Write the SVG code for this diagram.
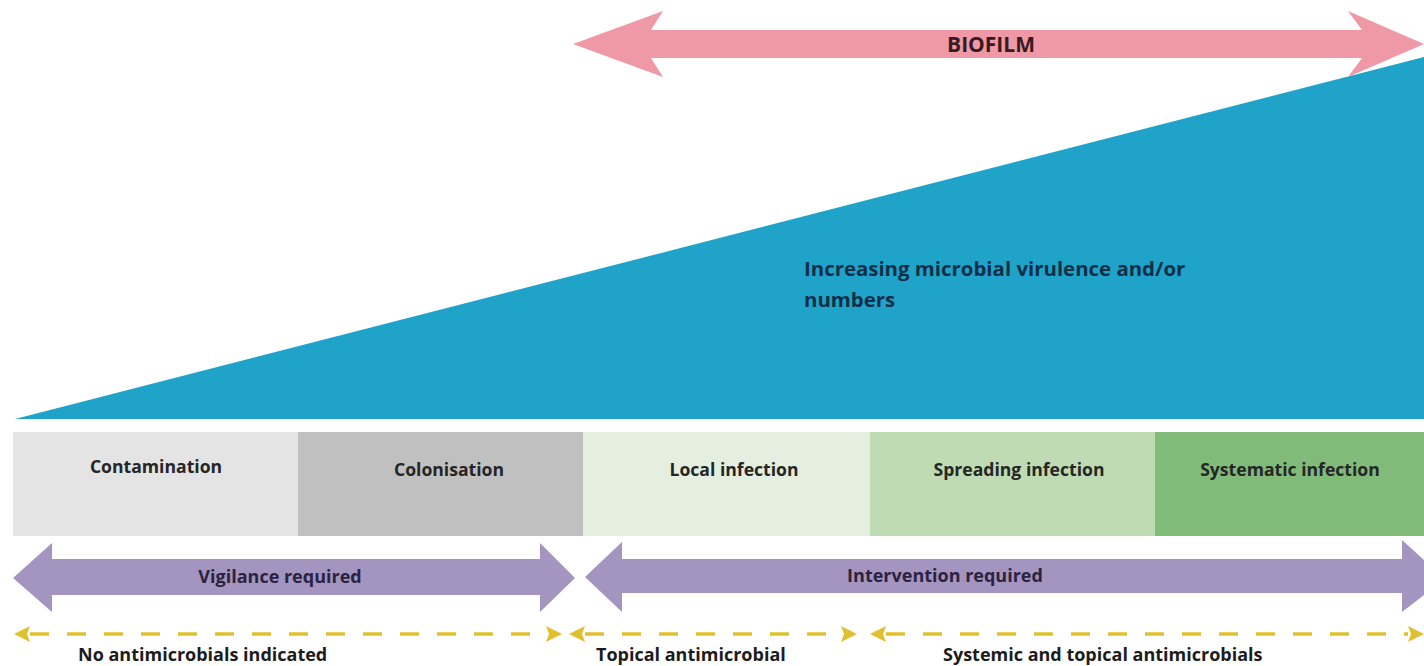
<svg xmlns="http://www.w3.org/2000/svg" width="1424" height="666" viewBox="0 0 1424 666">
<defs>
<style>
.t{font-family:"Open Sans","Liberation Sans",sans-serif;font-weight:700;}
.box{font-size:17.6px;fill:#262626;text-anchor:middle;}
.pur{fill:#a394c0;}
.pt{font-size:18px;fill:#2b2340;text-anchor:middle;}
.yl{stroke:#dfc02e;stroke-width:3.5;stroke-dasharray:19 18;fill:none;}
.yh{fill:#dfc02e;}
.bt{font-size:18px;fill:#1c1c1c;}
</style>
</defs>
<rect width="1424" height="666" fill="#ffffff"/>
<g id="triangle">
<polygon points="15,419 1424,57 1424,419" fill="#1fa3c8"/>
<text class="t" x="804" y="276" font-size="20.4" fill="#0f2f48">Increasing microbial virulence and/or</text>
<text class="t" x="804" y="307" font-size="20.4" fill="#0f2f48">numbers</text>
</g>
<g id="biofilm">
<polygon points="573,44 663,11 651,30 1362,30 1348,11 1424,44 1348,77 1362,58 651,58 663,77" fill="#ee99a5"/>
<text class="t" x="991" y="52" font-size="21" fill="#3a1a22" text-anchor="middle">BIOFILM</text>
</g>
<g id="contamination">
<rect x="13" y="432" width="286" height="104" fill="#e4e4e4"/>
<text class="t box" x="156" y="473">Contamination</text>
</g>
<g id="colonisation">
<rect x="298" y="432" width="286" height="104" fill="#c0c0c0"/>
<text class="t box" x="449" y="476">Colonisation</text>
</g>
<g id="local">
<rect x="583" y="432" width="288" height="104" fill="#e5efdf"/>
<text class="t box" x="734" y="476">Local infection</text>
</g>
<g id="spreading">
<rect x="870" y="432" width="286" height="104" fill="#bfdbb3"/>
<text class="t box" x="1019" y="476">Spreading infection</text>
</g>
<g id="systematic">
<rect x="1155" y="432" width="269" height="104" fill="#80bb7a"/>
<text class="t box" x="1290" y="476" fill="#1d3a1c">Systematic infection</text>
</g>
<g id="vigilance">
<polygon class="pur" points="13,578 52,543 52,559 540,559 540,543 575,578 540,612 540,595 52,595 52,612"/>
<text class="t pt" x="280" y="583">Vigilance required</text>
</g>
<g id="intervention">
<polygon class="pur" points="585,577 622,542 622,559 1402,559 1402,540 1424,560 1424,595 1402,612 1402,593 622,593 622,612"/>
<text class="t pt" x="945" y="582">Intervention required</text>
</g>
<g id="connectors">
<line class="yl" x1="30" y1="634" x2="548" y2="634"/>
<polygon class="yh" points="14,634 30,626 27,634 30,642"/>
<polygon class="yh" points="562,634 546,626 549,634 546,642"/>
<line class="yl" x1="585" y1="634" x2="843" y2="634"/>
<polygon class="yh" points="569,634 585,626 582,634 585,642"/>
<polygon class="yh" points="857,634 841,626 844,634 841,642"/>
<line class="yl" x1="886" y1="634" x2="1408" y2="634"/>
<polygon class="yh" points="870,634 886,626 883,634 886,642"/>
<polygon class="yh" points="1424,634 1408,626 1411,634 1408,642"/>
</g>
<g id="labels">
<text class="t bt" x="78" y="661">No antimicrobials indicated</text>
<text class="t bt" x="596" y="661">Topical antimicrobial</text>
<text class="t bt" x="943" y="661">Systemic and topical antimicrobials</text>
</g>
</svg>
